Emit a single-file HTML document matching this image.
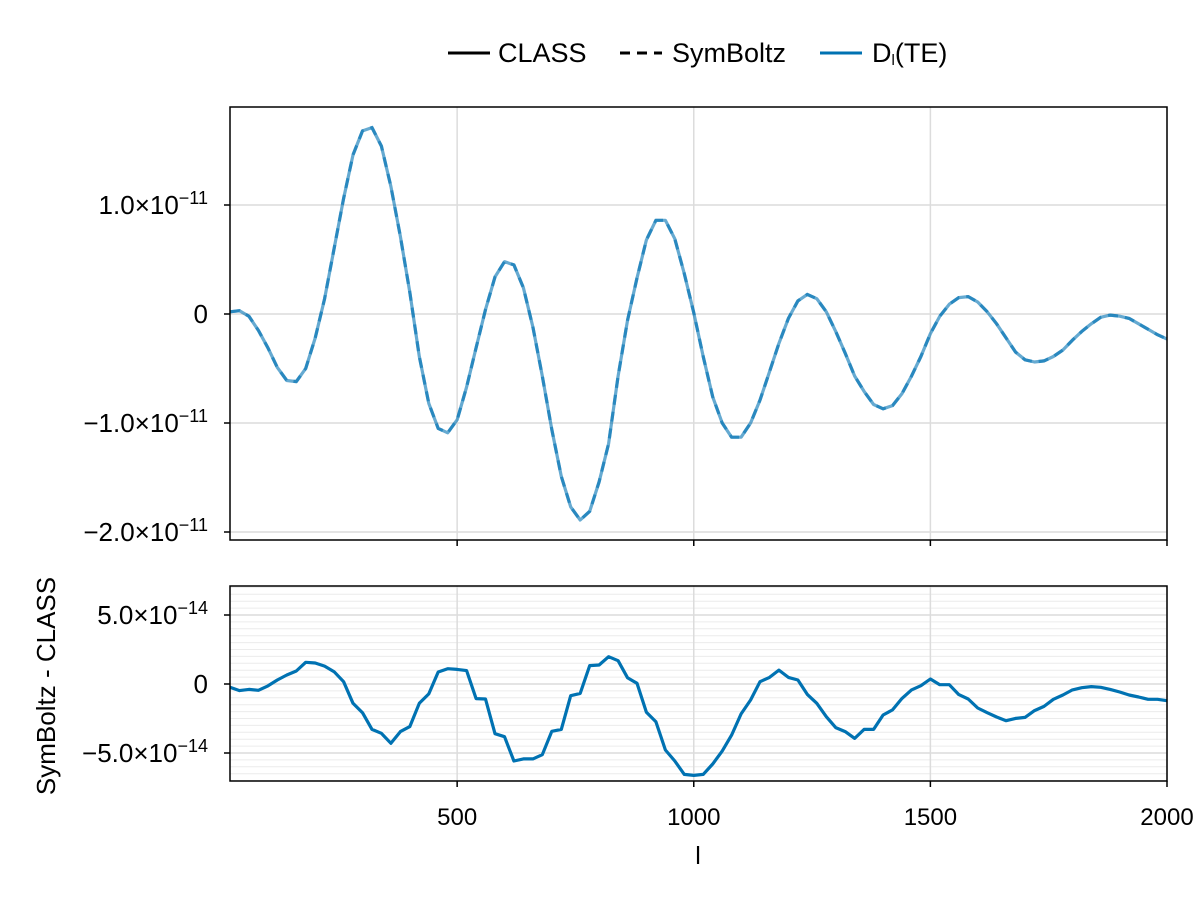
<!DOCTYPE html>
<html><head><meta charset="utf-8"><style>
html,body{margin:0;padding:0;background:#fff;}
svg{display:block;font-family:"Liberation Sans",Arial,sans-serif;}
</style></head><body>
<svg id="chart" width="1200" height="900" viewBox="0 0 1200 900">
  <g id="legend">
    <g>
      <line x1="448" y1="53" x2="490" y2="53" stroke="#000" stroke-width="3"/>
      <text x="498" y="62" font-size="27" fill="#000">CLASS</text>
    </g>
    <g>
      <line x1="620" y1="53" x2="662" y2="53" stroke="#000" stroke-width="3" stroke-dasharray="10 7"/>
      <text x="672" y="62" font-size="27" fill="#000">SymBoltz</text>
    </g>
    <g>
      <line x1="820" y1="53" x2="862" y2="53" stroke="#0072b2" stroke-width="3"/>
      <text x="872" y="62" font-size="27" fill="#000">D<tspan font-size="15" dy="3">l</tspan><tspan dy="-3">(TE)</tspan></text>
    </g>
  </g>
  <g id="top"></g>
  <g id="bot"></g>
  <text x="698" y="864" font-size="25" text-anchor="middle">l</text>
  <text transform="translate(55,686) rotate(-90)" font-size="26" text-anchor="middle">SymBoltz - CLASS</text>
</svg>
<script>
const ls = [];
for (let i = 1; i <= 100; i++) ls.push(i * 20);
const teValues = [0.02,0.03,-0.02,-0.15,-0.31,-0.49,-0.61,-0.62,-0.50,-0.22,0.14,0.60,1.06,1.46,1.68,1.71,1.54,1.17,0.71,0.20,-0.39,-0.82,-1.05,-1.09,-0.97,-0.67,-0.31,0.04,0.34,0.48,0.45,0.24,-0.12,-0.57,
-1.06,-1.49,-1.77,-1.89,-1.81,-1.54,-1.19,-0.57,-0.06,0.33,0.68,0.86,0.86,0.69,0.37,0.01,-0.39,-0.76,-1.00,-1.13,-1.13,-1.00,-0.79,-0.53,-0.27,-0.04,0.12,0.18,0.14,0.02,-0.16,-0.36,-0.57,
-0.71,-0.83,-0.87,-0.84,-0.73,-0.57,-0.39,-0.18,-0.02,0.09,0.15,0.16,0.11,0.02,-0.09,-0.22,-0.35,-0.42,-0.44,-0.43,-0.39,-0.33,-0.24,-0.16,-0.09,-0.03,-0.01,-0.02,-0.04,-0.09,-0.14,-0.19,-0.23]; // x1e-11
const diffValues = [-0.24,-0.48,-0.39,-0.46,-0.14,0.29,0.65,0.94,1.57,1.52,1.30,0.89,0.17,-1.40,-2.08,-3.29,-3.57,-4.30,-3.45,-3.09,-1.40,-0.72,0.87,1.11,1.06,0.97,-1.06,-1.09,-3.60,-3.82,-5.58,-5.43,-5.43,-5.12,-3.43,-3.29,-0.85,-0.68,1.33,1.38,1.98,1.69,0.46,0.05,-2.05,-2.73,-4.78,-5.58,-6.55,-6.62,
-6.55,-5.80,-4.86,-3.70,-2.17,-1.16,0.17,0.48,1.01,0.48,0.29,-0.75,-1.40,-2.37,-3.16,-3.45,-3.94,-3.29,-3.29,-2.25,-1.88,-1.04,-0.43,-0.12,0.36,-0.05,-0.05,-0.77,-1.09,-1.74,-2.08,-2.39,-2.66,-2.49,-2.42,-1.93,-1.62,-1.11,-0.80,-0.43,-0.27,-0.19,-0.24,-0.39,-0.58,-0.80,-0.94,-1.11,-1.11,-1.21]; // x1e-14
const xTicks = [500, 1000, 1500, 2000];
const xTickLabels = ["500", "1000", "1500", "2000"];
const topYTicks = [1, 0, -1, -2];
const topYTickLabels = [["1.0×10","−11"], ["0",""], ["−1.0×10","−11"], ["−2.0×10","−11"]];
const botYTicks = [5, 0, -5];
const botYTickLabels = [["5.0×10","−14"], ["0",""], ["−5.0×10","−14"]];

const NS = "http://www.w3.org/2000/svg";
const X0 = 230, X1 = 1167, LMIN = 20, LMAX = 2000;
const xs = l => X0 + (l - LMIN) / (LMAX - LMIN) * (X1 - X0);
const yTop = v => 314 - v * 109;
const yBot = v => 684 - v * 13.8;

function mk(tag, attrs, parent) {
  const e = document.createElementNS(NS, tag);
  for (const k in attrs) e.setAttribute(k, attrs[k]);
  parent.appendChild(e);
  return e;
}
function panel(g, top, bottom, yfn, yticks, ylabels, minor, vals, isTop) {
  if (minor) {
    for (let v = -7; v <= 7.01; v += 0.5) {
      const y = yfn(v);
      if (y < top || y > bottom) continue;
      const ln = mk("line", {x1: X0, x2: X1, y1: y, y2: y, stroke: "#ececec", "stroke-width": 1}, g);
      
      
    }
  }
  xTicks.forEach(t => {
    const ln = mk("line", {x1: xs(t), x2: xs(t), y1: top, y2: bottom, stroke: "#dcdcdc", "stroke-width": 1.5}, g);
    
    
    const tk = mk("line", {x1: xs(t), x2: xs(t), y1: bottom, y2: bottom + 6, stroke: "#000", "stroke-width": 1.5}, g);
    
    
  });
  yticks.forEach((t, i) => {
    const y = yfn(t);
    const ln = mk("line", {x1: X0, x2: X1, y1: y, y2: y, stroke: "#dcdcdc", "stroke-width": 1.5}, g);
    
    
    const tk = mk("line", {x1: X0 - 6, x2: X0, y1: y, y2: y, stroke: "#000", "stroke-width": 1.5}, g);
    
    
    const tx = mk("text", {x: 208, y: y + 9, "font-size": 26, "text-anchor": "end"}, g);
    
    
    tx.textContent = ylabels[i][0];
    if (ylabels[i][1]) {
      const sp = document.createElementNS(NS, "tspan");
      sp.setAttribute("font-size", "18");
      sp.setAttribute("dy", "-10");
      sp.textContent = ylabels[i][1];
      tx.appendChild(sp);
    }
  });
  const pts = ls.map((l, i) => xs(l).toFixed(1) + "," + yfn(vals[i]).toFixed(1)).join(" ");
  if (isTop) {
    const a = mk("polyline", {points: pts, fill: "none", stroke: "rgba(0,114,178,0.6)", "stroke-width": 3.2, "stroke-linejoin": "round"}, g);
    
    
    const b = mk("polyline", {points: pts, fill: "none", stroke: "rgba(0,114,178,0.6)", "stroke-width": 3.2, "stroke-dasharray": "10 7"}, g);
    
    
  } else {
    const a = mk("polyline", {points: pts, fill: "none", stroke: "#0072b2", "stroke-width": 3.2, "stroke-linejoin": "round"}, g);
    
    
  }
  const fr = mk("rect", {x: X0, y: top, width: X1 - X0, height: bottom - top, fill: "none", stroke: "#000", "stroke-width": 1.5}, g);
  
  
}
const gTop = document.getElementById("top");
const gBot = document.getElementById("bot");
panel(gTop, 107, 540, yTop, topYTicks, topYTickLabels, false, teValues, true);
panel(gBot, 586, 781, yBot, botYTicks, botYTickLabels, true, diffValues, false);
xTicks.forEach((t, i) => {
  const tx = mk("text", {x: xs(t), y: 825, "font-size": 24, "text-anchor": "middle"}, gBot);
  
  
  tx.textContent = xTickLabels[i];
});
</script>
</body></html>
